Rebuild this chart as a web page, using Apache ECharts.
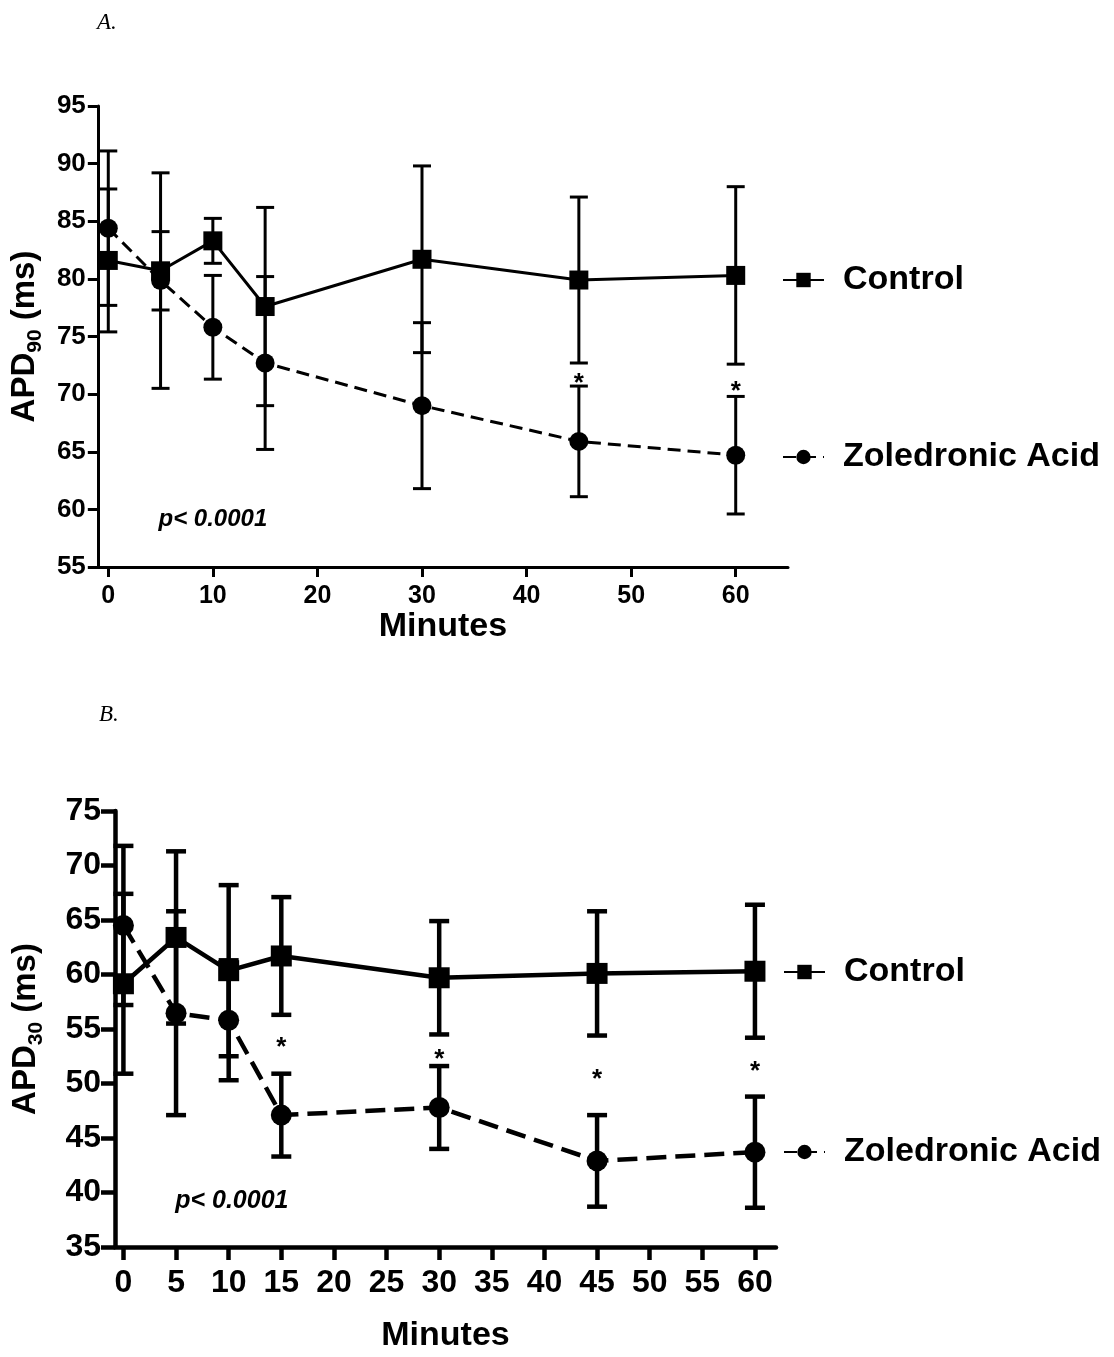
<!DOCTYPE html>
<html>
<head>
<meta charset="utf-8">
<script src="https://cdn.jsdelivr.net/npm/echarts@6/dist/echarts.min.js"></script>
<style>
html,body{margin:0;padding:0;background:#fff;}
#chart{width:1114px;height:1357px;}
</style>
</head>
<body>
<div id="chart"></div>
<script>
// ---------- data ----------
var minutes = [0, 5, 10, 15, 30, 45, 60];

// Panel A: APD90 (ms)
var ctrlA = [81.6, 80.7, 83.3, 77.6, 81.7, 79.9, 80.3];
var ctrlA_err = [6.2, 3.4, 1.95, 8.6, 8.1, 7.2, 7.7];
var zolA = [84.4, 79.85, 75.8, 72.7, 69.0, 65.9, 64.7];
var zolA_err = [6.7, 9.35, 4.5, 7.5, 7.2, 4.8, 5.1];
var sigA = [[45, 71.4], [60, 70.7]];
var pA = [[10, 59.1]];

// Panel B: APD30 (ms)
var ctrlB = [59.15, 63.4, 60.35, 61.7, 59.7, 60.1, 60.3];
var ctrlB_err = [8.25, 7.9, 7.85, 5.4, 5.2, 5.7, 6.1];
var zolB = [64.5, 56.45, 55.8, 47.1, 47.8, 42.9, 43.7];
var zolB_err = [7.3, 9.35, 5.5, 3.8, 3.8, 4.2, 5.1];
var sigB = [[15, 53.8], [30, 52.7], [45, 50.9], [60, 51.6]];
var pB = [[10.3, 39.2]];

var xTicksA = [0, 10, 20, 30, 40, 50, 60];
var xTicksB = [0, 5, 10, 15, 20, 25, 30, 35, 40, 45, 50, 55, 60];

// ---------- helpers ----------
var FONT = 'Liberation Sans, Arial, Helvetica, sans-serif';

function pairs(xs, ys) { return xs.map(function (x, i) { return [x, ys[i]]; }); }
function errData(xs, m, e) { return xs.map(function (x, i) { return [x, m[i] - e[i], m[i] + e[i]]; }); }

function errSeries(name, xi, data, lw, hw) {
  return {
    type: 'custom', name: name, xAxisIndex: xi, yAxisIndex: xi, z: 1,
    encode: { x: 0, y: [1, 2] },
    data: data,
    silent: true,
    renderItem: function (params, api) {
      var x = api.value(0), lo = api.value(1), hi = api.value(2);
      var a = api.coord([x, hi]), b = api.coord([x, lo]);
      var st = { stroke: '#000', lineWidth: lw, fill: null };
      return {
        type: 'group', children: [
          { type: 'line', shape: { x1: a[0], y1: a[1], x2: b[0], y2: b[1] }, style: st },
          { type: 'line', shape: { x1: a[0] - hw, y1: a[1], x2: a[0] + hw, y2: a[1] }, style: st },
          { type: 'line', shape: { x1: b[0] - hw, y1: b[1], x2: b[0] + hw, y2: b[1] }, style: st }
        ]
      };
    }
  };
}

function textSeries(xi, data, text, fs, style, off) {
  return {
    type: 'scatter', xAxisIndex: xi, yAxisIndex: xi, symbolSize: 0, silent: true, z: 5,
    data: data,
    itemStyle: { color: '#000', opacity: 1 },
    label: {
      show: true, position: 'inside', formatter: text, color: '#000', opacity: 1,
      textBorderWidth: 0, textBorderColor: 'transparent',
      fontFamily: FONT, fontSize: fs, fontWeight: 'bold', fontStyle: style, offset: off
    },
    emphasis: { disabled: true }
  };
}

function legendItem(name, left, top) {
  return {
    data: [name], orient: 'vertical', left: left, top: top, padding: 0,
    itemWidth: 41, itemHeight: 18, selectedMode: false,
    textStyle: { fontFamily: FONT, fontSize: 34, fontWeight: 'bold', color: '#000', lineHeight: 34, padding: [0, 0, 0, 14] }
  };
}

function xAxisDef(grid, min, max, ticks, lw, fs, tickLen, labMargin, nameGap) {
  return {
    type: 'value', gridIndex: grid, min: min, max: max,
    name: 'Minutes', nameLocation: 'middle', nameGap: nameGap,
    nameTextStyle: { fontFamily: FONT, fontSize: 34, fontWeight: 'bold', color: '#000' },
    axisLine: { show: true, onZero: false, lineStyle: { color: '#000', width: lw } },
    axisTick: { show: true, length: tickLen, customValues: ticks, lineStyle: { color: '#000', width: lw } },
    axisLabel: { customValues: ticks, color: '#000', fontFamily: FONT, fontSize: fs, fontWeight: 'bold', margin: labMargin },
    splitLine: { show: false }
  };
}

function yAxisDef(grid, min, max, sub, lw, fs, tickLen, labMargin, nameGap) {
  return {
    type: 'value', gridIndex: grid, min: min, max: max, interval: 5,
    name: '{a|APD}{s|' + sub + '}{a| (ms)}', nameLocation: 'middle', nameGap: nameGap,
    nameTextStyle: {
      color: '#000',
      rich: {
        a: { fontFamily: FONT, fontSize: 33, fontWeight: 'bold', color: '#000', lineHeight: 38, verticalAlign: 'top' },
        s: { fontFamily: FONT, fontSize: 21, fontWeight: 'bold', color: '#000', lineHeight: 38, verticalAlign: 'bottom', padding: [10, 0, 0, 0] }
      }
    },
    axisLine: { show: true, onZero: false, lineStyle: { color: '#000', width: lw } },
    axisTick: { show: true, length: tickLen, lineStyle: { color: '#000', width: lw } },
    axisLabel: { color: '#000', fontFamily: FONT, fontSize: fs, fontWeight: 'bold', margin: labMargin },
    splitLine: { show: false }
  };
}

var chart = echarts.init(document.getElementById('chart'), null, { renderer: 'canvas' });

var option = {
  backgroundColor: '#fff',
  animation: false,
  title: [
    { text: 'A.', left: 97, top: 11, padding: 0, textStyle: { fontFamily: 'Liberation Serif, Times New Roman, serif', fontStyle: 'italic', fontWeight: 'normal', fontSize: 23, color: '#000' } },
    { text: 'B.', left: 99, top: 703, padding: 0, textStyle: { fontFamily: 'Liberation Serif, Times New Roman, serif', fontStyle: 'italic', fontWeight: 'normal', fontSize: 23, color: '#000' } }
  ],
  legend: [
    legendItem('Control', 782, 263),
    legendItem('Zoledronic Acid', 782, 440),
    legendItem('Control', 783, 955),
    legendItem('Zoledronic Acid', 783, 1135)
  ],
  grid: [
    { left: 96, top: 106, width: 692, height: 461 },
    { left: 115, top: 811, width: 661, height: 436 }
  ],
  xAxis: [
    xAxisDef(0, -1, 65, xTicksA, 3, 25, 10, 17, 43),
    xAxisDef(1, -0.8, 62, xTicksB, 4.5, 32, 13, 20, 72)
  ],
  yAxis: [
    yAxisDef(0, 55, 95, '90', 3, 26, 10, 12, 50),
    yAxisDef(1, 35, 75, '30', 4.5, 32, 14, 14, 68)
  ],
  series: [
    {
      name: 'Control', type: 'line', xAxisIndex: 0, yAxisIndex: 0, z: 3,
      data: pairs(minutes, ctrlA), symbol: 'rect', symbolSize: 19,
      itemStyle: { color: '#000' }, lineStyle: { color: '#000', width: 3, type: 'solid' }
    },
    {
      name: 'Zoledronic Acid', type: 'line', xAxisIndex: 0, yAxisIndex: 0, z: 3,
      data: pairs(minutes, zolA), symbol: 'circle', symbolSize: 19,
      itemStyle: { color: '#000' }, lineStyle: { color: '#000', width: 3, type: [13, 7] }
    },
    errSeries('errCtrlA', 0, errData(minutes, ctrlA, ctrlA_err), 3, 9),
    errSeries('errZolA', 0, errData(minutes, zolA, zolA_err), 3, 9),
    textSeries(0, sigA, '*', 26, 'normal', [0, 6]),
    textSeries(0, pA, 'p< 0.0001', 24, 'italic', [0, 0]),
    {
      name: 'Control', type: 'line', xAxisIndex: 1, yAxisIndex: 1, z: 3,
      data: pairs(minutes, ctrlB), symbol: 'rect', symbolSize: 21,
      itemStyle: { color: '#000' }, lineStyle: { color: '#000', width: 4.5, type: 'solid' }
    },
    {
      name: 'Zoledronic Acid', type: 'line', xAxisIndex: 1, yAxisIndex: 1, z: 3,
      data: pairs(minutes, zolB), symbol: 'circle', symbolSize: 21,
      itemStyle: { color: '#000' }, lineStyle: { color: '#000', width: 4.5, type: [20, 9] }
    },
    errSeries('errCtrlB', 1, errData(minutes, ctrlB, ctrlB_err), 4.5, 10),
    errSeries('errZolB', 1, errData(minutes, zolB, zolB_err), 4.5, 10),
    textSeries(1, sigB, '*', 26, 'normal', [0, 6]),
    textSeries(1, pB, 'p< 0.0001', 25, 'italic', [0, 0])
  ]
};
chart.setOption(option);
</script>
</body>
</html>
